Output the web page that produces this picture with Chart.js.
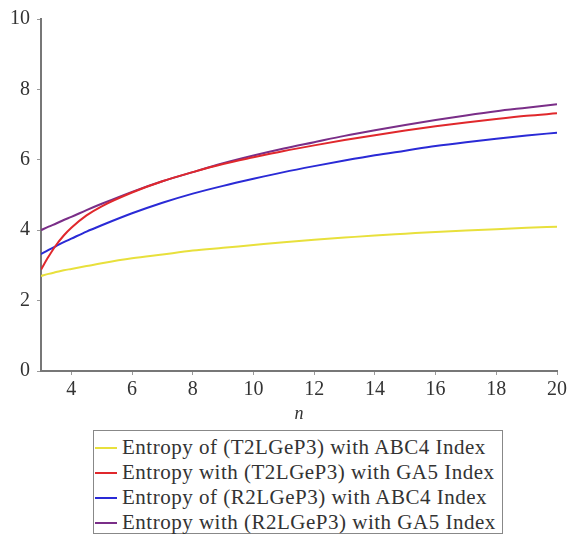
<!DOCTYPE html>
<html>
<head>
<meta charset="utf-8">
<script src="https://cdn.jsdelivr.net/npm/chart.js@4.4.0/dist/chart.umd.min.js"></script>
<style>
  html, body { margin: 0; padding: 0; background: #fff; }
  #wrap { position: relative; width: 571px; height: 535px; overflow: hidden; }
  #box { position: absolute; left: 0; top: 0; width: 571px; height: 425px; }
  #legend {
    position: absolute; left: 93px; top: 430px; width: 410px; height: 104px;
    border: 1px solid #888; box-sizing: border-box; padding-top: 4px;
    font-family: "Liberation Serif", "Times New Roman", serif; font-size: 21px; letter-spacing: 0.5px; color: #333;
  }
  .row { height: 25px; line-height: 25px; white-space: nowrap; position: relative; }
  .sw { position: absolute; left: 1px; top: 12px; width: 22px; height: 2px; }
  .tx { position: absolute; left: 28px; top: 0; }
</style>
</head>
<body>
<div id="wrap">
  <div id="box"><canvas id="c" width="571" height="425"></canvas></div>
  <div id="legend"></div>
</div>
<script>
const nValues = [3, 3.25, 3.5, 3.75, 4, 4.5, 5, 6, 7, 8, 9, 10, 11, 12, 13, 14, 15, 16, 17, 18, 19, 20];
const abcT = [2.70, 2.76, 2.81, 2.86, 2.90, 2.98, 3.06, 3.20, 3.31, 3.42, 3.50, 3.58, 3.66, 3.73, 3.79, 3.85, 3.90, 3.95, 3.99, 4.03, 4.07, 4.10];
const ga5T = [2.88, 3.25, 3.58, 3.85, 4.07, 4.42, 4.68, 5.07, 5.39, 5.65, 5.88, 6.07, 6.25, 6.41, 6.56, 6.70, 6.83, 6.95, 7.06, 7.16, 7.25, 7.32];
const abcR = [3.32, 3.44, 3.55, 3.66, 3.76, 3.96, 4.14, 4.48, 4.78, 5.04, 5.26, 5.46, 5.65, 5.82, 5.98, 6.13, 6.26, 6.39, 6.50, 6.60, 6.69, 6.77];
const ga5R = [4.00, 4.10, 4.19, 4.29, 4.38, 4.57, 4.75, 5.09, 5.39, 5.65, 5.90, 6.12, 6.32, 6.50, 6.68, 6.84, 6.99, 7.13, 7.26, 7.38, 7.48, 7.58];
const seriesLabels = [
  "Entropy of (T2LGeP3) with ABC4 Index",
  "Entropy with (T2LGeP3) with GA5 Index",
  "Entropy of (R2LGeP3) with ABC4 Index",
  "Entropy with (R2LGeP3) with GA5 Index"
];
const seriesColors = ["#e8e03c", "#e0282c", "#2a2ad6", "#7a2e88"];
const xTicks = [4, 6, 8, 10, 12, 14, 16, 18, 20];
const yTicks = [0, 2, 4, 6, 8, 10];

const allSeries = [abcT, ga5T, abcR, ga5R];
const datasets = allSeries.map((vals, i) => ({
  label: seriesLabels[i],
  data: nValues.map((n, j) => ({ x: n, y: vals[j] })),
  borderColor: seriesColors[i],
  backgroundColor: seriesColors[i],
  borderWidth: 2,
  pointRadius: 0,
  fill: false,
  cubicInterpolationMode: 'monotone'
}));

const serif = "'Liberation Serif', 'Times New Roman', serif";
new Chart(document.getElementById('c'), {
  type: 'line',
  data: { datasets },
  options: {
    responsive: false,
    animation: false,
    events: [],
    layout: { padding: { top: 19, right: 14, bottom: 0, left: 0 } },
    plugins: { legend: { display: false }, tooltip: { enabled: false } },
    scales: {
      x: {
        type: 'linear', min: 3, max: 20,
        afterBuildTicks: s => { s.ticks = xTicks.map(v => ({ value: v })); },
        afterFit: s => { s.height = 54; },
        grid: { drawOnChartArea: false, drawTicks: true, tickLength: 4, color: '#999' },
        border: { display: true, color: '#777', width: 2 },
        ticks: { padding: 3, color: '#333', font: { family: serif, size: 20 }, maxRotation: 0 },
        title: { display: true, text: 'n', color: '#333', padding: 0, font: { family: serif, size: 18, style: 'italic' } }
      },
      y: {
        min: 0, max: 10,
        afterBuildTicks: s => { s.ticks = yTicks.map(v => ({ value: v })); },
        afterFit: s => { s.width = 41; },
        grid: { drawOnChartArea: false, drawTicks: true, tickLength: 4, color: '#999' },
        border: { display: true, color: '#777', width: 2 },
        ticks: { padding: 7, color: '#333', font: { family: serif, size: 20 } }
      }
    }
  }
});

const leg = document.getElementById('legend');
seriesLabels.forEach((lab, i) => {
  const r = document.createElement('div'); r.className = 'row';
  const sw = document.createElement('span'); sw.className = 'sw'; sw.style.background = seriesColors[i];
  const tx = document.createElement('span'); tx.className = 'tx'; tx.textContent = lab;
  r.appendChild(sw); r.appendChild(tx); leg.appendChild(r);
});
</script>
</body>
</html>
